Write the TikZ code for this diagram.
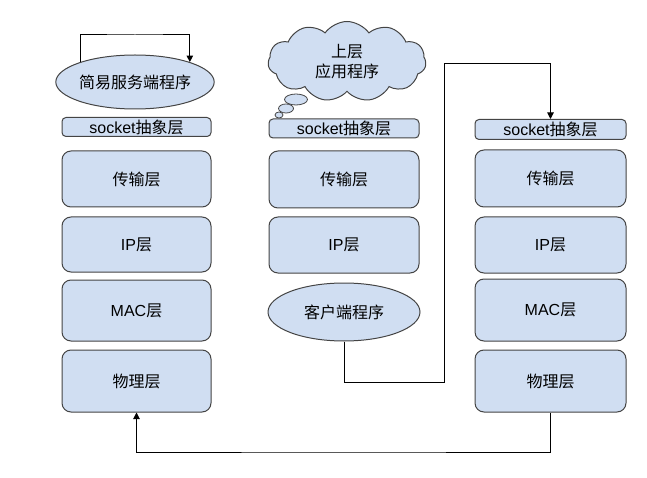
\documentclass[tikz,border=0pt]{standalone}
\usepackage{fontspec}
\setmainfont{Liberation Sans}
\newfontfamily\cjk{Noto Sans CJK SC}
\usetikzlibrary{shapes.geometric,shapes.symbols,arrows.meta}
\definecolor{boxfill}{HTML}{D0DEF2}
\definecolor{boxline}{HTML}{444444}
\tikzset{
  base/.style={draw=boxline, fill=boxfill, line width=1pt, font=\fontsize{16}{20}\selectfont, inner sep=0pt, align=center},
  layer/.style={base, rounded corners=9pt},
  sockbox/.style={base, rounded corners=4pt, minimum height=19pt},
  prog/.style={base, ellipse},
  bubble/.style={draw=boxline, fill=boxfill, line width=0.8pt},
  arr/.style={draw=black, line width=1pt, -{Triangle[length=6.5pt,width=6.5pt]}},
  conn/.style={draw=black, line width=1pt}
}
\begin{document}
\begin{tikzpicture}[x=1pt,y=-1pt]
\useasboundingbox (0,0) rectangle (647,478);
% left column
\node[prog, minimum width=150pt, minimum height=54pt] (srv) at (135,82) {\cjk 简易服务端程序};
\node[sockbox, minimum width=149pt] (lsock) at (136.5,127) {socket{\cjk 抽象层}};
\node[layer, minimum width=149pt, minimum height=56pt] (ltrans) at (136.5,179) {\cjk 传输层};
\node[layer, minimum width=149pt, minimum height=55pt] (lip) at (136.5,244.5) {IP{\cjk 层}};
\node[layer, minimum width=149pt, minimum height=61pt] (lmac) at (136.5,310.5) {MAC{\cjk 层}};
\node[layer, minimum width=149pt, minimum height=62pt] (lphy) at (136.5,381) {\cjk 物理层};
% middle column
\node[base, cloud, cloud puffs=11, cloud puff arc=110, aspect=2, minimum width=158pt, minimum height=80pt] (app) at (347,61.5) {\cjk 上层\\[0pt]\cjk 应用程序};
\draw[bubble] (296,99.5) ellipse (11.5pt and 5.5pt);
\draw[bubble] (286,108.5) ellipse (7.5pt and 4.5pt);
\draw[bubble] (279,115) ellipse (4pt and 3pt);
\node[sockbox, minimum width=150pt] (msock) at (344,128.5) {socket{\cjk 抽象层}};
\node[layer, minimum width=150pt, minimum height=57pt] (mtrans) at (344,179.5) {\cjk 传输层};
\node[layer, minimum width=150pt, minimum height=56pt] (mip) at (344,245) {IP{\cjk 层}};
\node[prog, minimum width=152pt, minimum height=58pt] (cli) at (344,312) {\cjk 客户端程序};
% right column
\node[sockbox, minimum width=151pt, minimum height=20pt] (rsock) at (550.5,129.5) {socket{\cjk 抽象层}};
\node[layer, minimum width=151pt, minimum height=57pt] (rtrans) at (550.5,178.5) {\cjk 传输层};
\node[layer, minimum width=151pt, minimum height=56pt] (rip) at (550.5,245) {IP{\cjk 层}};
\node[layer, minimum width=151pt, minimum height=62pt] (rmac) at (550.5,310) {MAC{\cjk 层}};
\node[layer, minimum width=151pt, minimum height=62pt] (rphy) at (550.5,381) {\cjk 物理层};
% connectors
\coordinate (ltop) at (135,35);
\draw[arr] (srv.160) |- (ltop) -| (srv.20);
\coordinate (c1) at (444,382);
\coordinate (c2) at (444,64);
\draw[arr] (cli.south) |- (c1) -- (c2) -| (rsock.north);
\coordinate (b1) at (344,452);
\draw[arr] (rphy.south) |- (b1) -| (lphy.south);
\end{tikzpicture}
\end{document}
